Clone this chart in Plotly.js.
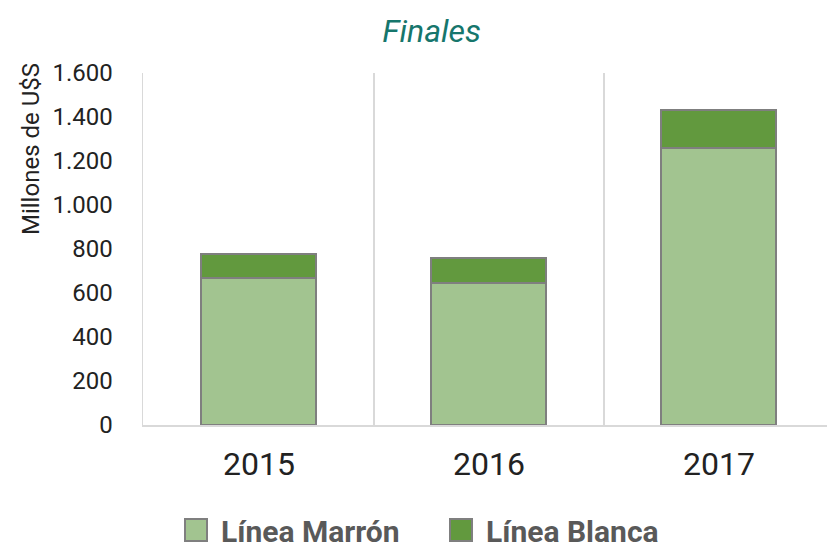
<!DOCTYPE html>
<html>
<head>
<meta charset="utf-8">
<script src="https://cdn.plot.ly/plotly-3.0.1.min.js"></script>
<style>html,body{margin:0;padding:0;background:#fff;overflow:hidden;}</style>
</head>
<body>
<div id="chart" style="width:827px;height:554px;"></div>
<script>
const years = ["2015", "2016", "2017"];
const lineaMarron = [668, 645, 1259];
const lineaBlanca = [109, 114, 173];
const yTickVals = [0, 200, 400, 600, 800, 1000, 1200, 1400, 1600];
const titleText = "Finales";
const yTitle = "Millones de U$S";
const seriesNames = ["Línea Marrón", "Línea Blanca"];

const xIdx = years.map((_, i) => i);

const traces = [
  {
    type: "bar", name: seriesNames[0], x: xIdx, y: lineaMarron, width: 0.5,
    marker: {color: "#a2c490", line: {color: "#7f7f7f", width: 2}},
    hoverinfo: "y"
  },
  {
    type: "bar", name: seriesNames[1], x: xIdx, y: lineaBlanca, width: 0.5,
    marker: {color: "#62993e", line: {color: "#7f7f7f", width: 2}},
    hoverinfo: "y"
  },
  {
    type: "scatter", x: [0.5], y: [0], xaxis: "x2", mode: "none",
    showlegend: false, hoverinfo: "skip"
  }
];

const layout = {
  width: 827, height: 554,
  margin: {l: 143, r: 0, t: 73, b: 129, pad: 0},
  paper_bgcolor: "#ffffff", plot_bgcolor: "#ffffff",
  barmode: "stack",
  separators: ",.",
  font: {family: "Roboto, 'Noto Sans', sans-serif", color: "#222222"},
  title: {
    text: titleText,
    font: {family: "Roboto, sans-serif", size: 32, color: "#16766c", style: "italic"},
    x: 0.522, xanchor: "center", xref: "container",
    y: 1 - 31/554, yanchor: "middle", yref: "container"
  },
  xaxis: {
    type: "linear", range: [-0.504, 2.47],
    tickvals: xIdx, ticktext: years,
    tickfont: {size: 32, color: "#222222"},
    ticks: "", ticklabelstandoff: 10,
    showgrid: false, zeroline: false,
    showline: true, linecolor: "#d9d9d9", linewidth: 1.5,
    fixedrange: true
  },
  xaxis2: {
    type: "linear", overlaying: "x", range: [-0.504, 2.47],
    tickvals: [0.5, 1.5], showticklabels: false, ticks: "",
    showgrid: true, gridcolor: "#d9d9d9", gridwidth: 1.2,
    zeroline: false, showline: false
  },
  yaxis: {
    range: [0, 1600], tickvals: yTickVals,
    tickformat: ",d",
    tickfont: {size: 24, color: "#222222"},
    ticks: "", ticklabelstandoff: 24,
    showgrid: false, zeroline: false,
    showline: true, linecolor: "#d9d9d9", linewidth: 1.5,
    fixedrange: true
  },
  annotations: [{
    text: yTitle, textangle: -90, showarrow: false,
    xref: "paper", yref: "paper",
    x: (31 - 143) / 684, y: (425 - 149) / 352,
    xanchor: "center", yanchor: "middle",
    font: {size: 24, color: "#222222"}
  }],
  showlegend: true,
  legend: {
    orientation: "h", traceorder: "normal",
    xref: "container", yref: "container",
    x: 171 / 827, xanchor: "left",
    y: 1 - 530/554, yanchor: "middle",
    font: {size: 30, color: "#595959", family: "Roboto, sans-serif", weight: "bold"},
    itemclick: false, itemdoubleclick: false,
    itemwidth: 40, entrywidth: 210, entrywidthmode: "pixels"
  }
};

Plotly.newPlot("chart", traces, layout, {displayModeBar: false, staticPlot: true}).then(function () {
  document.querySelectorAll(".legend .traces .legendpoints path").forEach(function (p) {
    const d = p.getAttribute("d") || "";
    if (d.indexOf("M6,6H-6V-6H6Z") === 0) {
      p.setAttribute("d", "M11,11H-11V-11H11Z");
      p.style.strokeWidth = "2px";
    }
  });
});
</script>
</body>
</html>
